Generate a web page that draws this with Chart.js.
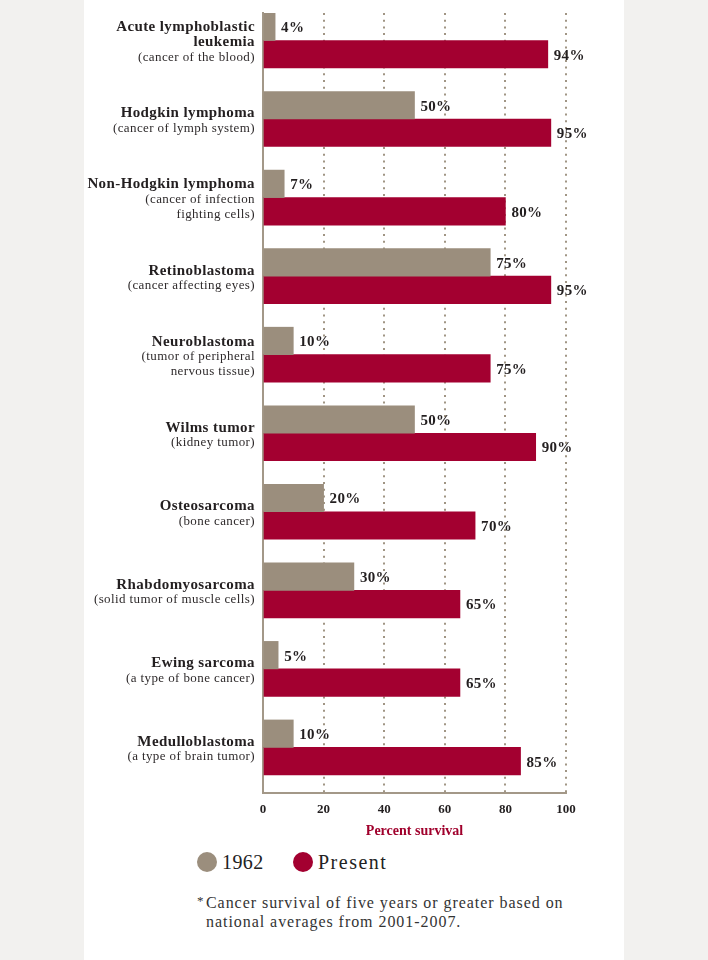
<!DOCTYPE html>
<html>
<head>
<meta charset="utf-8">
<script src="https://cdn.jsdelivr.net/npm/chart.js@4.4.1/dist/chart.umd.min.js"></script>
<style>
  html, body { margin: 0; padding: 0; width: 708px; height: 960px; overflow: hidden; background: #f2f1ef; font-family: "Liberation Serif", serif; }
  #panel { position: absolute; left: 84px; top: 0; width: 540px; height: 960px; background: #fff; }
  #wrap { position: absolute; left: 0; top: 0; width: 540px; height: 850px; }
  .dot { position: absolute; top: 852px; width: 20px; height: 20px; border-radius: 50%; }
  .leg { position: absolute; top: 852px; font-size: 20px; line-height: 20px; color: #222; letter-spacing: 0.4px; }
  .note { position: absolute; top: 893px; font-size: 16px; line-height: 19px; color: #333; letter-spacing: 0.95px; white-space: nowrap; }
</style>
</head>
<body>
<div id="panel">
  <div id="wrap"><canvas id="survival-chart"></canvas></div>
  <div class="dot" style="left:113px;background:#9b8e7d"></div>
  <div class="leg" style="left:138px">1962</div>
  <div class="dot" style="left:209px;background:#a30030"></div>
  <div class="leg" style="left:234px;letter-spacing:1.5px">Present</div>
  <div class="note" style="left:113px;font-size:13px;top:891px">*</div>
  <div class="note" style="left:122px">Cancer survival of five years or greater based on<br>national averages from 2001-2007.</div>
</div>
<script>
// Category names (bold) and descriptions
const titleLines = [
  ['Acute lymphoblastic', 'leukemia'],
  ['Hodgkin lymphoma'],
  ['Non-Hodgkin lymphoma'],
  ['Retinoblastoma'],
  ['Neuroblastoma'],
  ['Wilms tumor'],
  ['Osteosarcoma'],
  ['Rhabdomyosarcoma'],
  ['Ewing sarcoma'],
  ['Medulloblastoma']
];
const noteLines = [
  ['(cancer of the blood)'],
  ['(cancer of lymph system)'],
  ['(cancer of infection', 'fighting cells)'],
  ['(cancer affecting eyes)'],
  ['(tumor of peripheral', 'nervous tissue)'],
  ['(kidney tumor)'],
  ['(bone cancer)'],
  ['(solid tumor of muscle cells)'],
  ['(a type of bone cancer)'],
  ['(a type of brain tumor)']
];
// Percent survival
const survival1962 = [4, 50, 7, 75, 10, 50, 20, 30, 5, 10];
const survivalPresent = [94, 95, 80, 95, 75, 90, 70, 65, 65, 85];
const xTicks = [0, 20, 40, 60, 80, 100];

const serif = '"Liberation Serif", serif';
const axisGray = '#a39888';

// Draw category labels on the left and value labels at bar ends
const labelPlugin = {
  id: 'labels',
  afterDatasetsDraw(chart) {
    const { ctx, chartArea, scales: { y } } = chart;
    ctx.save();
    ctx.textBaseline = 'middle';
    ctx.textAlign = 'right';
    ctx.letterSpacing = '0.4px';
    titleLines.forEach((tl, i) => {
      const lines = tl.map(t => ({ t, bold: true }))
        .concat(noteLines[i].map(t => ({ t, bold: false })));
      const c = y.getPixelForValue(i) + 2;
      lines.forEach((ln, k) => {
        ctx.font = ln.bold ? 'bold 15px ' + serif : '13px ' + serif;
        ctx.fillStyle = ln.bold ? '#231f20' : '#2e2a2b';
        ctx.fillText(ln.t, chartArea.left - 8, c + (k - (lines.length - 1) / 2) * 15);
      });
    });
    ctx.letterSpacing = '0.3px';
    ctx.textAlign = 'left';
    ctx.font = 'bold 15px ' + serif;
    ctx.fillStyle = '#231f20';
    chart.data.datasets.forEach((ds, d) => {
      chart.getDatasetMeta(d).data.forEach((el, i) => {
        ctx.fillText(ds.data[i].x + '%', el.x + 6, el.y + 1.5);
      });
    });
    ctx.restore();
  }
};

const ctx = document.getElementById('survival-chart').getContext('2d');
const survivalChart = new Chart(ctx, {
  type: 'bar',
  data: {
    datasets: [{
      label: '1962',
      data: survival1962.map((v, i) => ({ x: v, y: i })),
      backgroundColor: '#9b8e7d',
      barThickness: 27.5
    }, {
      label: 'Present',
      data: survivalPresent.map((v, i) => ({ x: v, y: i })),
      backgroundColor: '#a30030',
      barThickness: 27.5
    }]
  },
  options: {
    indexAxis: 'y',
    responsive: true,
    maintainAspectRatio: false,
    animation: false,
    layout: { padding: { left: 179, right: 58, top: 13, bottom: 10 } },
    plugins: {
      legend: { display: false },
      tooltip: { enabled: false }
    },
    scales: {
      x: {
        type: 'linear',
        min: 0,
        max: 100,
        afterBuildTicks: s => { s.ticks = xTicks.map(v => ({ value: v })); },
        afterFit: s => { s.height = 47; },
        ticks: { color: '#231f20', padding: 9, font: { family: serif, size: 13, weight: 'bold' } },
        grid: { color: '#a09584', lineWidth: 2, drawTicks: false },
        border: { display: true, color: axisGray, width: 2, dash: [2, 4.7] },
        title: {
          display: true,
          text: 'Percent survival',
          color: '#a0002c',
          padding: { top: 6, bottom: 0 },
          font: { family: serif, size: 14, weight: 'bold' }
        }
      },
      y: {
        type: 'linear',
        reverse: true,
        offset: false,
        min: -0.35,
        max: 9.58,
        bounds: 'data',
        afterFit: s => { s.width = 0; },
        ticks: { display: false },
        grid: { display: false, offset: false },
        border: { display: true, color: axisGray, width: 2 }
      }
    }
  },
  plugins: [labelPlugin]
});
</script>
</body>
</html>
